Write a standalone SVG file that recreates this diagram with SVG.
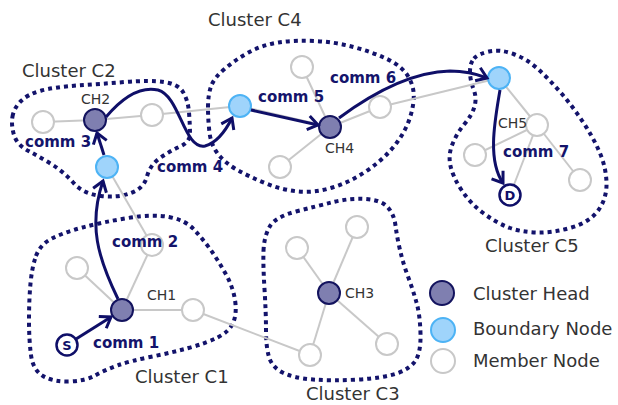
<svg xmlns="http://www.w3.org/2000/svg" width="618" height="405" viewBox="0 0 618 405">
<defs>
<style>
.cl{fill:none;stroke:#13136b;stroke-width:4;stroke-dasharray:4 4}
.ln{stroke:#c8c8c8;stroke-width:2;fill:none}
.ch{fill:#7f7fb0;stroke:#13135e;stroke-width:2}
.bn{fill:#9fd4fb;stroke:#4db3f5;stroke-width:2}
.mn{fill:#fff;stroke:#c8c8c8;stroke-width:2}
.ar{fill:none;stroke:#0f0f68;stroke-width:3;marker-end:url(#arr)}
.sd{fill:#fff;stroke:#0f0f68;stroke-width:2.5}
.sdt{font-family:"DejaVu Sans",sans-serif;font-weight:bold;font-size:13px;fill:#0f0f68;text-anchor:middle}
.cm{font-family:"DejaVu Sans",sans-serif;font-weight:bold;font-size:15px;fill:#14146b}
.chl{font-family:"DejaVu Sans",sans-serif;font-size:14px;fill:#333}
.cll{font-family:"DejaVu Sans",sans-serif;font-size:18px;fill:#333}
</style>
<marker id="arr" markerUnits="userSpaceOnUse" markerWidth="20" markerHeight="20" viewBox="-12 -10 14 20" refX="0" refY="0" orient="auto">
<path d="M-10,-7 L0,0 L-10,7" fill="none" stroke="#0f0f68" stroke-width="3" stroke-linejoin="miter"/>
</marker>
</defs>
<rect width="618" height="405" fill="#fff"/>

<g id="clusters">
<path id="C2" class="cl" d="M12.5,116.5 Q14,108 21,101 Q28,94 41.5,90.5 Q55,87 77.5,85.5 Q100,84 125,82 Q150,80 164,82 Q178,84 183,92 Q188,100 189,112.5 Q190,125 190,133.5 Q190,142 180,146.5 Q170,151 160,158 Q150,165 147,176.5 Q144,188 131,193 Q118,198 101,196 Q84,194 74,183.5 Q64,172 52,164.5 Q40,157 28.5,151 Q17,145 14,135 Q11,125 12.5,116.5 Z"/>
<path id="C4" class="cl" d="M208,107.5 Q208,95 211,86.5 Q214,78 224.5,69 Q235,60 248.5,52.5 Q262,45 278.5,42.5 Q295,40 315,41 Q335,42 353.5,47 Q372,52 387,59 Q402,66 408.5,77 Q415,88 413.5,101.5 Q412,115 406,127.5 Q400,140 390,151 Q380,162 365,172 Q350,182 332.5,187.5 Q315,193 298.5,191.5 Q282,190 266,183.5 Q250,177 237.5,170 Q225,163 218,154 Q211,145 209.5,132.5 Q208,120 208,107.5 Z"/>
<path id="C5" class="cl" d="M474,58.5 Q478,54 489,51.5 Q500,49 513.5,54 Q527,59 538.5,69.5 Q550,80 561.5,93.5 Q573,107 583,122 Q593,137 599.5,152 Q606,167 606.5,182.5 Q607,198 598.5,210 Q590,222 571.5,227.5 Q553,233 536.5,232.5 Q520,232 507.5,227 Q495,222 482.5,212.5 Q470,203 461.5,190 Q453,177 450.5,166 Q448,155 452.5,144 Q457,133 464.5,124 Q472,115 474.5,106.5 Q477,98 473.5,89 Q470,80 470,71.5 Q470,63 474,58.5 Z"/>
<path id="C1" class="cl" d="M36,256 Q40,245 51,239 Q62,233 82.5,227.5 Q103,222 128,218 Q153,214 169,217 Q185,220 193.5,229 Q202,238 210,249 Q218,260 225.5,273.5 Q233,287 235,300 Q237,313 233.5,322 Q230,331 218.5,337 Q207,343 188.5,348 Q170,353 150,357 Q130,361 117.5,365.5 Q105,370 95,375.5 Q85,381 69,381.5 Q53,382 43,376 Q33,370 31,355 Q29,340 29,320 Q29,300 30.5,283.5 Q32,267 36,256 Z"/>
<path id="C3" class="cl" d="M263.5,251 Q264,237 269.5,227 Q275,217 296,211.5 Q317,206 333.5,202 Q350,198 365.5,199 Q381,200 387.5,207 Q394,214 395.5,225.5 Q397,237 400,250 Q403,263 408,276.5 Q413,290 416.5,302.5 Q420,315 420.5,333.5 Q421,352 415.5,360.5 Q410,369 396.5,373.5 Q383,378 358,379.5 Q333,381 313,379.5 Q293,378 282.5,372.5 Q272,367 269,357 Q266,347 266,330 Q266,313 264.5,289 Q263,265 263.5,251 Z"/>
</g>

<g id="links">
<line class="ln" x1="43" y1="122" x2="95" y2="120"/>
<line class="ln" x1="95" y1="120" x2="152" y2="115"/>
<line class="ln" x1="152" y1="115" x2="240" y2="106"/>
<line class="ln" x1="240" y1="106" x2="330" y2="127"/>
<line class="ln" x1="330" y1="127" x2="302" y2="67"/>
<line class="ln" x1="330" y1="127" x2="380" y2="107"/>
<line class="ln" x1="330" y1="127" x2="280" y2="167"/>
<line class="ln" x1="380" y1="107" x2="499" y2="78"/>
<line class="ln" x1="499" y1="78" x2="537" y2="125"/>
<line class="ln" x1="537" y1="125" x2="475" y2="155"/>
<line class="ln" x1="537" y1="125" x2="580" y2="180"/>
<line class="ln" x1="537" y1="125" x2="510" y2="195"/>
<line class="ln" x1="107" y1="167" x2="152" y2="245"/>
<line class="ln" x1="152" y1="245" x2="122" y2="310"/>
<line class="ln" x1="122" y1="310" x2="77" y2="268"/>
<line class="ln" x1="122" y1="310" x2="193" y2="310"/>
<line class="ln" x1="193" y1="310" x2="310" y2="355"/>
<line class="ln" x1="329" y1="293" x2="297" y2="248"/>
<line class="ln" x1="329" y1="293" x2="357" y2="227"/>
<line class="ln" x1="329" y1="293" x2="387" y2="344"/>
<line class="ln" x1="329" y1="293" x2="310" y2="355"/>
</g>

<g id="n-m1"><circle class="mn" cx="43" cy="122" r="11"/></g>
<g id="n-m2"><circle class="mn" cx="152" cy="115" r="11"/></g>
<g id="n-m3"><circle class="mn" cx="302" cy="67" r="11"/></g>
<g id="n-m4"><circle class="mn" cx="380" cy="107" r="11"/></g>
<g id="n-m5"><circle class="mn" cx="280" cy="167" r="11"/></g>
<g id="n-ch5"><circle class="mn" cx="537" cy="125" r="11"/><text class="chl" x="498" y="128">CH5</text></g>
<g id="n-m6"><circle class="mn" cx="475" cy="155" r="11"/></g>
<g id="n-m7"><circle class="mn" cx="580" cy="180" r="11"/></g>
<g id="n-m8"><circle class="mn" cx="152" cy="245" r="11"/></g>
<g id="n-m9"><circle class="mn" cx="77" cy="268" r="11"/></g>
<g id="n-m10"><circle class="mn" cx="193" cy="310" r="11"/></g>
<g id="n-m11"><circle class="mn" cx="297" cy="248" r="11"/></g>
<g id="n-m12"><circle class="mn" cx="357" cy="227" r="11"/></g>
<g id="n-m13"><circle class="mn" cx="387" cy="344" r="11"/></g>
<g id="n-m14"><circle class="mn" cx="310" cy="355" r="11"/></g>

<g id="n-ch2"><circle class="ch" cx="95" cy="120" r="11"/><text class="chl" x="81" y="104">CH2</text></g>
<g id="n-ch4"><circle class="ch" cx="330" cy="127" r="11"/><text class="chl" x="325" y="153">CH4</text></g>
<g id="n-ch1"><circle class="ch" cx="122" cy="310" r="11"/><text class="chl" x="147" y="300">CH1</text></g>
<g id="n-ch3"><circle class="ch" cx="329" cy="293" r="11"/><text class="chl" x="345" y="298">CH3</text></g>

<g id="n-b2"><circle class="bn" cx="107" cy="167" r="11"/></g>
<g id="n-b4"><circle class="bn" cx="240" cy="106" r="11"/></g>
<g id="n-b5"><circle class="bn" cx="499" cy="78" r="11"/></g>

<g id="n-s"><circle class="sd" cx="67" cy="345" r="10.5"/><text class="sdt" x="67" y="350">S</text></g>
<g id="n-d"><circle class="sd" cx="510" cy="195" r="10.5"/><text class="sdt" x="510" y="200">D</text></g>

<g id="connectors">
<path class="ar" d="M76,339 L111,317"/>
<path class="ar" d="M118,299 C98,258 88,225 103,181"/>
<path class="ar" d="M104,155 L97,133"/>
<path class="ar" d="M106,117 C122,98 140,86 158,90 C180,96 184,150 205,146 C216,143 225,132 232,118"/>
<path class="ar" d="M251,110 L318,125"/>
<path class="ar" d="M339,118 C370,95 410,72 450,71 C465,71 477,74 487,78"/>
<path class="ar" d="M500,90 C495,120 487,160 503,183"/>
</g>

<g id="comm-labels">
<text class="cm" x="93" y="348">comm 1</text>
<text class="cm" x="112" y="247">comm 2</text>
<text class="cm" x="25" y="147">comm 3</text>
<text class="cm" x="157" y="172">comm 4</text>
<text class="cm" x="258" y="102">comm 5</text>
<text class="cm" x="330" y="83">comm 6</text>
<text class="cm" x="503" y="157">comm 7</text>
</g>

<g id="cluster-labels">
<text class="cll" x="22" y="77">Cluster C2</text>
<text class="cll" x="208" y="26">Cluster C4</text>
<text class="cll" x="485" y="252">Cluster C5</text>
<text class="cll" x="135" y="383">Cluster C1</text>
<text class="cll" x="306" y="400">Cluster C3</text>
</g>

<g id="legend">
<g id="lg-ch"><circle class="ch" cx="442" cy="293" r="12"/><text class="cll" x="473" y="300">Cluster Head</text></g>
<g id="lg-bn"><circle class="bn" cx="443" cy="330" r="12"/><text class="cll" x="473" y="335">Boundary Node</text></g>
<g id="lg-mn"><circle class="mn" cx="443" cy="361" r="12"/><text class="cll" x="473" y="367">Member Node</text></g>
</g>
</svg>
